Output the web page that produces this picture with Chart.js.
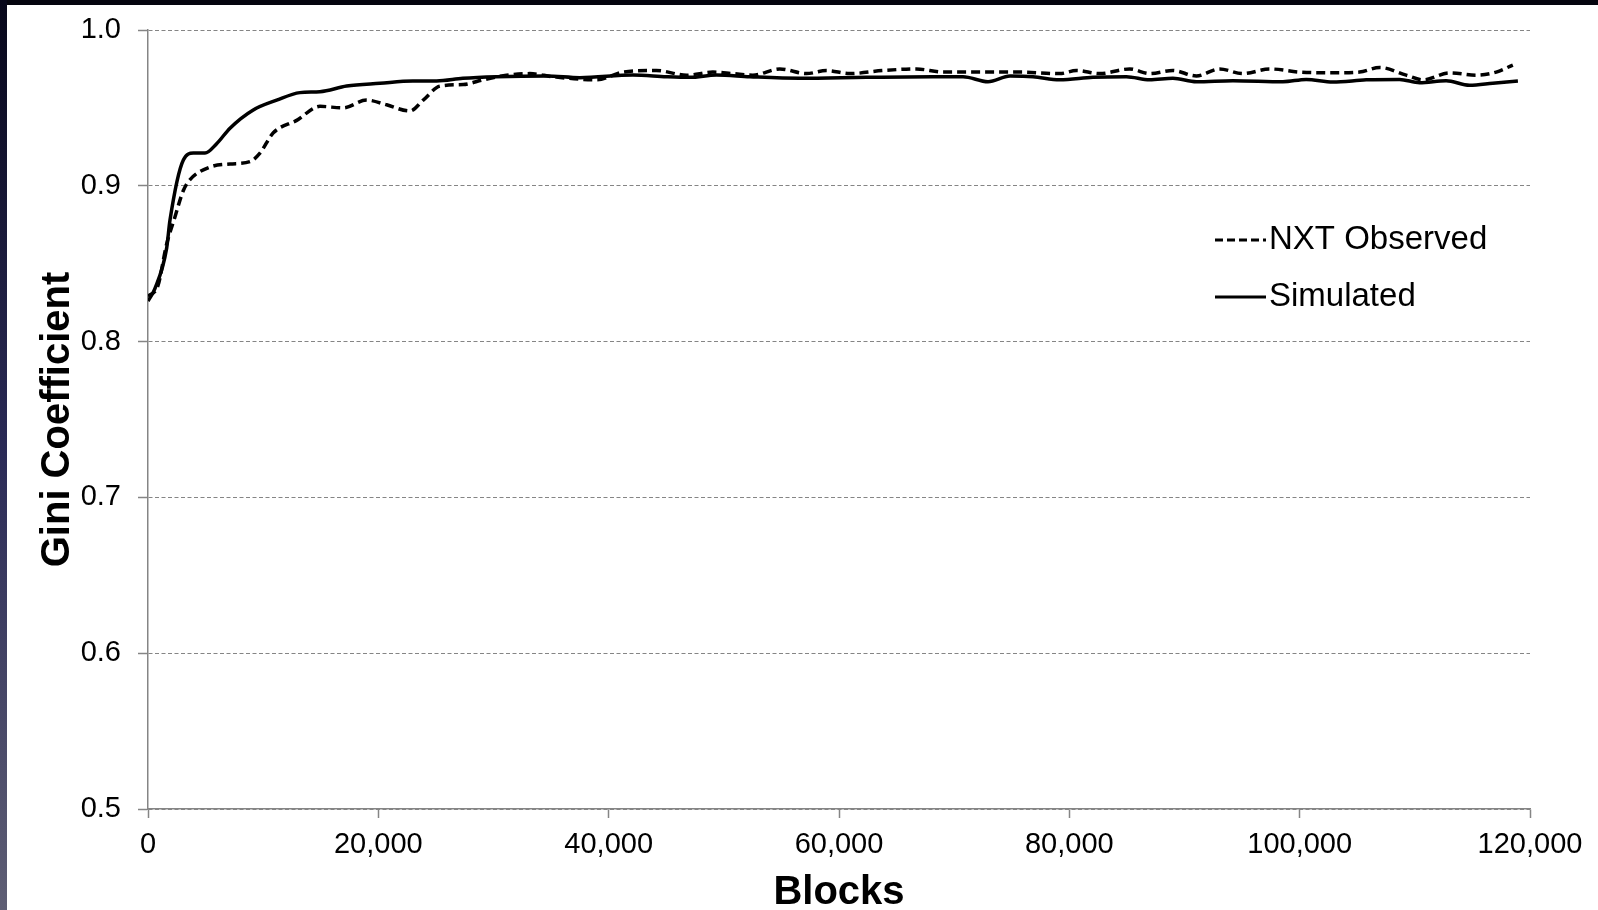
<!DOCTYPE html>
<html>
<head>
<meta charset="utf-8">
<script src="https://cdn.jsdelivr.net/npm/chart.js@4"></script>
<style>
    html, body { margin: 0; padding: 0; background: #fff; width: 1598px; height: 910px; overflow: hidden; }
    #topBand { position: absolute; left: 0; top: 0; width: 1598px; height: 5px; background: #05050f; }
    #leftBand { position: absolute; left: 0; top: 0; width: 7px; height: 910px;
        background: linear-gradient(#07071a, #2b2b57 50%, #5e5e74); }
    #giniChart { position: absolute; left: 0; top: 0; }
</style>
</head>
<body>
<div id="topBand"></div>
<div id="leftBand"></div>
<canvas id="giniChart" width="1598" height="910"></canvas>
<script>
// NXT observed (dashed)
const observedBlocks = [0, 870, 1600, 2340, 3070, 3650, 5380, 7120, 8850, 9720, 10880, 12910, 14930, 16950, 18980,
    20720, 22740, 23900, 25350, 27370, 29100, 31130, 33160, 35180, 38950, 41260, 44140, 46760, 49050, 50790,
    52520, 54860, 57180, 58910, 60930, 63820, 66720, 69030, 72500, 75690, 79160, 80610, 82630, 85240, 86970,
    88990, 91030, 93050, 95070, 97390, 99990, 102880, 105200, 106940, 109250, 110700, 113020, 115330, 117070, 118510];
const observedGini = [0.829, 0.836, 0.862, 0.880, 0.897, 0.904, 0.912, 0.914, 0.9155, 0.921, 0.934, 0.942, 0.951, 0.950, 0.955,
    0.952, 0.948, 0.955, 0.964, 0.965, 0.968, 0.971, 0.972, 0.970, 0.968, 0.973, 0.974, 0.971, 0.973, 0.972,
    0.971, 0.975, 0.972, 0.974, 0.972, 0.974, 0.975, 0.973, 0.973, 0.973, 0.972, 0.974, 0.972, 0.975, 0.972,
    0.974, 0.9705, 0.975, 0.972, 0.975, 0.973, 0.9725, 0.973, 0.976, 0.971, 0.968, 0.9725, 0.971, 0.973, 0.9775];

// simulated (solid)
const simulatedBlocks = [0, 600, 1620, 1910, 3070, 3935, 4950, 5960, 7120, 9140, 11170, 13190, 14930, 17250, 20140,
    23000, 25060, 27340, 30270, 34610, 37500, 42100, 45020, 47050, 49360, 52250, 56590, 62380, 68170, 70770,
    72940, 74850, 76850, 79160, 82050, 84950, 86970, 88990, 91030, 94210, 98550, 100570, 102880, 105780, 108670,
    110410, 112720, 114750, 116770, 118950];
const simulatedGini = [0.826, 0.834, 0.860, 0.878, 0.9166, 0.921, 0.921, 0.927, 0.937, 0.9487, 0.955, 0.9598, 0.9604, 0.964, 0.9658,
    0.9673, 0.9673, 0.969, 0.970, 0.9705, 0.9694, 0.9711, 0.970, 0.9696, 0.9711, 0.970, 0.969, 0.9696, 0.970, 0.970,
    0.9668, 0.9704, 0.970, 0.968, 0.9696, 0.970, 0.968, 0.969, 0.9668, 0.9675, 0.9668, 0.9683, 0.9666, 0.968, 0.9683,
    0.9662, 0.9675, 0.9645, 0.9658, 0.9673];

const seriesLabels = ["NXT Observed", "Simulated"];
const xTitle = "Blocks";
const yTitle = "Gini Coefficient";

const FONT = "'Liberation Sans', Arial, sans-serif";
const GRID = "#858585";

function toPoints(xs, ys) {
    return xs.map((x, i) => ({ x: x, y: ys[i] }));
}

// legend drawn inside the plot, like the original
const insideLegend = {
    id: "insideLegend",
    afterDraw(chart) {
        const ctx = chart.ctx;
        const x0 = 1215, x1 = 1266, textX = 1269;
        const rows = [240, 297];
        chart.data.datasets.forEach((ds, i) => {
            const y = rows[i];
            ctx.save();
            ctx.strokeStyle = ds.borderColor;
            ctx.lineWidth = 3;
            ctx.setLineDash(ds.borderDash ? [8, 4] : []);
            ctx.beginPath();
            ctx.moveTo(x0, y);
            ctx.lineTo(x1, y);
            ctx.stroke();
            ctx.setLineDash([]);
            ctx.fillStyle = "#000";
            ctx.font = "33px " + FONT;
            ctx.textBaseline = "middle";
            ctx.fillText(ds.label, textX, y);
            ctx.restore();
        });
    }
};

new Chart(document.getElementById("giniChart"), {
    type: "line",
    data: {
        datasets: [
            {
                label: seriesLabels[0],
                data: toPoints(observedBlocks, observedGini),
                borderColor: "#000",
                borderWidth: 3.5,
                borderDash: [9, 5],
                pointRadius: 0,
                cubicInterpolationMode: "monotone",
                fill: false
            },
            {
                label: seriesLabels[1],
                data: toPoints(simulatedBlocks, simulatedGini),
                borderColor: "#000",
                borderWidth: 3.5,
                pointRadius: 0,
                cubicInterpolationMode: "monotone",
                fill: false
            }
        ]
    },
    options: {
        responsive: false,
        animation: false,
        devicePixelRatio: 1,
        layout: { padding: { top: 30, right: 68, left: 0, bottom: 0 } },
        plugins: {
            legend: { display: false },
            tooltip: { enabled: false }
        },
        scales: {
            x: {
                type: "linear",
                min: 0,
                max: 120000,
                afterFit(scale) { scale.height = 101; },
                ticks: {
                    stepSize: 20000,
                    color: "#000",
                    font: { family: FONT, size: 29 },
                    padding: 10,
                    maxRotation: 0,
                    callback: v => v.toLocaleString("en-US")
                },
                grid: {
                    drawOnChartArea: false,
                    drawTicks: true,
                    tickLength: 9,
                    color: GRID,
                    tickColor: GRID,
                    tickWidth: 1.5
                },
                border: { color: GRID, width: 1.5 },
                title: {
                    display: true,
                    text: xTitle,
                    color: "#000",
                    font: { family: FONT, size: 40, weight: "bold", lineHeight: 0.85 },
                    padding: { top: 0, bottom: 0 }
                }
            },
            y: {
                min: 0.5,
                max: 1.0,
                afterFit(scale) {
                    scale.width = 148;
                    scale.paddingTop = 10;
                    scale.paddingBottom = 10;
                },
                ticks: {
                    stepSize: 0.1,
                    color: "#000",
                    font: { family: FONT, size: 29 },
                    padding: 17,
                    callback: v => v.toFixed(1)
                },
                grid: {
                    drawOnChartArea: true,
                    drawTicks: true,
                    tickLength: 10,
                    color: GRID,
                    lineWidth: 1,
                    tickColor: GRID,
                    tickWidth: 1.5
                },
                border: { color: GRID, width: 1.5, dash: [4, 2.5] },
                title: {
                    display: true,
                    text: yTitle,
                    color: "#000",
                    font: { family: FONT, size: 40, weight: "bold", lineHeight: 1.0 },
                    padding: { top: 38, bottom: 0 }
                }
            }
        }
    },
    plugins: [insideLegend]
});
</script>
</body>
</html>
